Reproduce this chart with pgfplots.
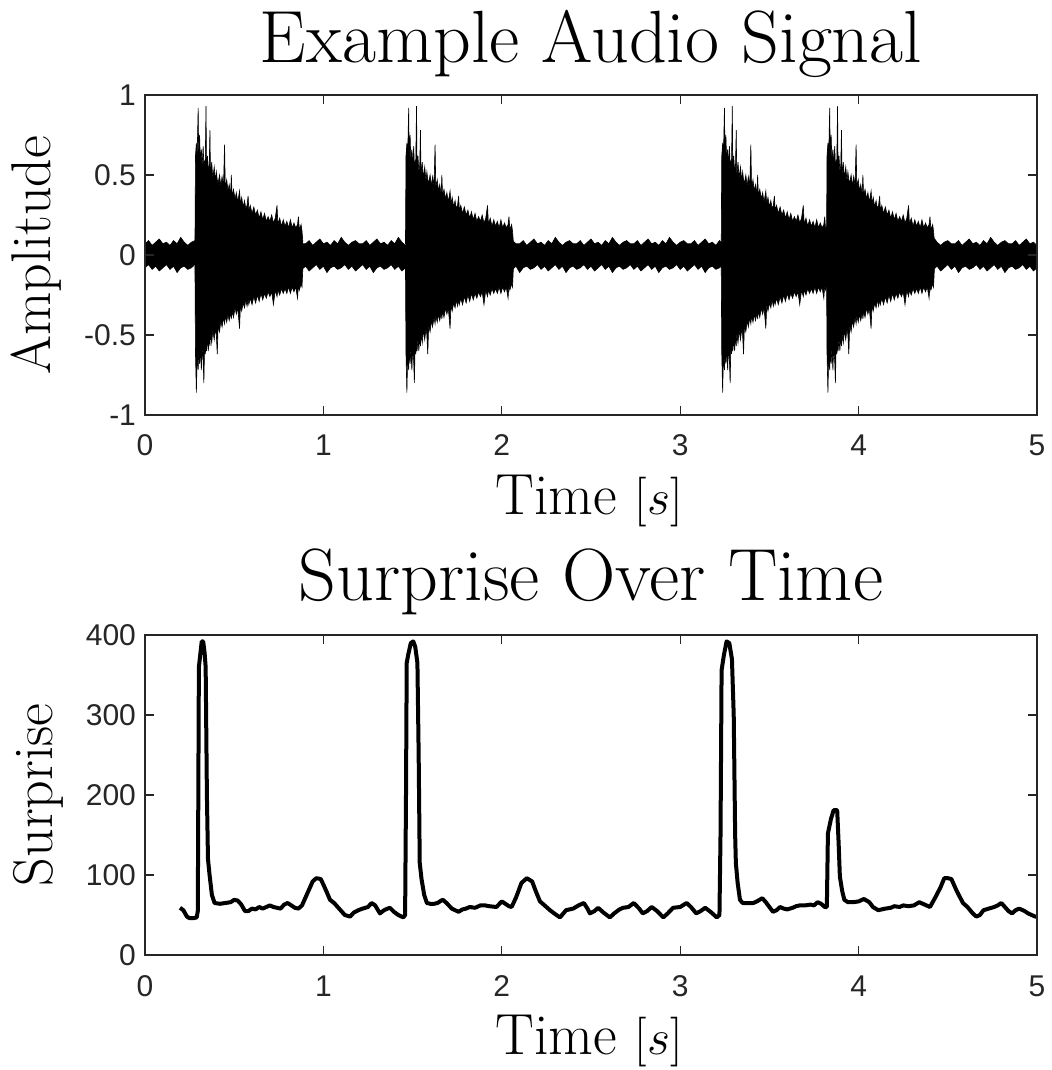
\documentclass[border=0pt]{standalone}
\usepackage{fontspec}
\usepackage{pgfplots}
\pgfplotsset{compat=1.18}
\usepackage{pgfplotstable}
\usepgfplotslibrary{fillbetween}
\newfontfamily\arialfont{Liberation Sans}
\definecolor{axgray}{HTML}{262626}

% background noise band: time, upper edge, lower edge
\pgfplotstableread{
t u l
0.00 0.07 -0.08
0.02 0.09 -0.06
0.04 0.06 -0.09
0.06 0.08 -0.07
0.08 0.10 -0.10
0.10 0.07 -0.08
0.12 0.08 -0.06
0.14 0.06 -0.09
0.16 0.09 -0.07
0.18 0.07 -0.11
0.20 0.11 -0.08
0.22 0.08 -0.07
0.24 0.06 -0.09
0.26 0.08 -0.08
0.28 0.09 -0.06
0.88 0.07 -0.09
0.90 0.07 -0.07
0.92 0.09 -0.10
0.94 0.06 -0.08
0.96 0.08 -0.06
0.98 0.10 -0.09
1.00 0.07 -0.07
1.02 0.08 -0.11
1.04 0.06 -0.08
1.06 0.09 -0.07
1.08 0.07 -0.09
1.10 0.11 -0.08
1.12 0.08 -0.06
1.14 0.06 -0.09
1.16 0.08 -0.07
1.18 0.09 -0.10
1.20 0.07 -0.08
1.22 0.07 -0.06
1.24 0.09 -0.09
1.26 0.06 -0.07
1.28 0.08 -0.11
1.30 0.10 -0.08
1.32 0.07 -0.07
1.34 0.08 -0.09
1.36 0.06 -0.08
1.38 0.09 -0.06
1.40 0.07 -0.09
1.42 0.11 -0.07
1.44 0.08 -0.10
1.46 0.06 -0.08
2.04 0.08 -0.06
2.06 0.09 -0.09
2.08 0.07 -0.07
2.10 0.07 -0.11
2.12 0.09 -0.08
2.14 0.06 -0.07
2.16 0.08 -0.09
2.18 0.10 -0.08
2.20 0.07 -0.06
2.22 0.08 -0.09
2.24 0.06 -0.07
2.26 0.09 -0.10
2.28 0.07 -0.08
2.30 0.11 -0.06
2.32 0.08 -0.09
2.34 0.06 -0.07
2.36 0.08 -0.11
2.38 0.09 -0.08
2.40 0.07 -0.07
2.42 0.07 -0.09
2.44 0.09 -0.08
2.46 0.06 -0.06
2.48 0.08 -0.09
2.50 0.10 -0.07
2.52 0.07 -0.10
2.54 0.08 -0.08
2.56 0.06 -0.06
2.58 0.09 -0.09
2.60 0.07 -0.07
2.62 0.11 -0.11
2.64 0.08 -0.08
2.66 0.06 -0.07
2.68 0.08 -0.09
2.70 0.09 -0.08
2.72 0.07 -0.06
2.74 0.07 -0.09
2.76 0.09 -0.07
2.78 0.06 -0.10
2.80 0.08 -0.08
2.82 0.10 -0.06
2.84 0.07 -0.09
2.86 0.08 -0.07
2.88 0.06 -0.11
2.90 0.09 -0.08
2.92 0.07 -0.07
2.94 0.11 -0.09
2.96 0.08 -0.08
2.98 0.06 -0.06
3.00 0.08 -0.09
3.02 0.09 -0.07
3.04 0.07 -0.10
3.06 0.07 -0.08
3.08 0.09 -0.06
3.10 0.06 -0.09
3.12 0.08 -0.07
3.14 0.10 -0.11
3.16 0.07 -0.08
3.18 0.08 -0.07
3.20 0.06 -0.09
3.22 0.09 -0.08
3.24 0.07 -0.06
4.42 0.11 -0.09
4.44 0.08 -0.07
4.46 0.06 -0.10
4.48 0.08 -0.08
4.50 0.09 -0.06
4.52 0.07 -0.09
4.54 0.07 -0.07
4.56 0.09 -0.11
4.58 0.06 -0.08
4.60 0.08 -0.07
4.62 0.10 -0.09
4.64 0.07 -0.08
4.66 0.08 -0.06
4.68 0.06 -0.09
4.70 0.09 -0.07
4.72 0.07 -0.10
4.74 0.11 -0.08
4.76 0.08 -0.06
4.78 0.06 -0.09
4.80 0.08 -0.07
4.82 0.09 -0.11
4.84 0.07 -0.08
4.86 0.07 -0.07
4.88 0.09 -0.09
4.90 0.06 -0.08
4.92 0.08 -0.06
4.94 0.10 -0.09
4.96 0.07 -0.07
4.98 0.08 -0.10
5.00 0.06 -0.08
}\noise

% the four bursts (same drum envelope): times of bursts 1-4, upper edge, lower edge
\pgfplotstableread{
t1 t2 t3 t4 u l
0.280 1.460 3.230 3.820 0.07 -0.07
0.283 1.463 3.233 3.823 0.62 -0.62
0.288 1.468 3.238 3.828 0.70 -0.86
0.292 1.472 3.242 3.832 0.60 -0.64
0.298 1.478 3.248 3.838 0.92 -0.72
0.301 1.481 3.251 3.841 0.62 -0.60
0.306 1.486 3.256 3.846 0.75 -0.68
0.310 1.490 3.260 3.850 0.60 -0.58
0.316 1.496 3.266 3.856 0.66 -0.72
0.320 1.500 3.270 3.860 0.55 -0.58
0.326 1.506 3.276 3.866 0.68 -0.66
0.330 1.510 3.280 3.870 0.56 -0.80
0.334 1.514 3.284 3.874 0.58 -0.56
0.338 1.518 3.288 3.878 0.60 -0.62
0.342 1.522 3.292 3.882 0.93 -0.55
0.345 1.525 3.295 3.885 0.54 -0.60
0.350 1.530 3.300 3.890 0.62 -0.52
0.355 1.535 3.305 3.895 0.52 -0.60
0.360 1.540 3.310 3.900 0.56 -0.50
0.364 1.544 3.314 3.904 0.78 -0.57
0.367 1.547 3.317 3.907 0.50 -0.49
0.374 1.554 3.324 3.914 0.58 -0.55
0.380 1.560 3.330 3.920 0.48 -0.47
0.388 1.568 3.338 3.928 0.55 -0.53
0.395 1.575 3.345 3.935 0.46 -0.46
0.400 1.580 3.350 3.940 0.52 -0.50
0.405 1.585 3.355 3.945 0.47 -0.62
0.410 1.590 3.360 3.950 0.45 -0.44
0.418 1.598 3.368 3.958 0.50 -0.48
0.425 1.605 3.375 3.965 0.43 -0.41
0.432 1.612 3.382 3.972 0.49 -0.45
0.440 1.620 3.390 3.980 0.43 -0.39
0.446 1.626 3.396 3.986 0.69 -0.43
0.450 1.630 3.400 3.990 0.42 -0.38
0.458 1.638 3.408 3.998 0.47 -0.42
0.465 1.645 3.415 4.005 0.40 -0.37
0.472 1.652 3.422 4.012 0.44 -0.41
0.480 1.660 3.430 4.020 0.38 -0.36
0.484 1.664 3.434 4.024 0.50 -0.40
0.488 1.668 3.438 4.028 0.37 -0.35
0.496 1.676 3.446 4.036 0.41 -0.39
0.505 1.685 3.455 4.045 0.35 -0.33
0.512 1.692 3.462 4.052 0.39 -0.37
0.520 1.700 3.470 4.060 0.33 -0.33
0.530 1.710 3.480 4.070 0.40 -0.46
0.535 1.715 3.485 4.075 0.32 -0.31
0.542 1.722 3.492 4.082 0.36 -0.35
0.550 1.730 3.500 4.090 0.30 -0.30
0.558 1.738 3.508 4.098 0.34 -0.33
0.565 1.745 3.515 4.105 0.29 -0.28
0.572 1.752 3.522 4.112 0.31 -0.32
0.578 1.758 3.528 4.118 0.37 -0.28
0.582 1.762 3.532 4.122 0.28 -0.31
0.590 1.770 3.540 4.130 0.31 -0.27
0.600 1.780 3.550 4.140 0.26 -0.31
0.610 1.790 3.560 4.150 0.30 -0.26
0.620 1.800 3.570 4.160 0.25 -0.30
0.630 1.810 3.580 4.170 0.28 -0.25
0.640 1.820 3.590 4.180 0.23 -0.29
0.650 1.830 3.600 4.190 0.27 -0.24
0.660 1.840 3.610 4.200 0.22 -0.28
0.670 1.850 3.620 4.210 0.26 -0.24
0.680 1.860 3.630 4.220 0.21 -0.27
0.690 1.870 3.640 4.230 0.24 -0.23
0.700 1.880 3.650 4.240 0.21 -0.26
0.710 1.890 3.660 4.250 0.25 -0.23
0.720 1.900 3.670 4.260 0.20 -0.31
0.730 1.910 3.680 4.270 0.23 -0.22
0.740 1.920 3.690 4.280 0.31 -0.26
0.745 1.925 3.695 4.285 0.19 -0.22
0.755 1.935 3.705 4.295 0.23 -0.25
0.765 1.945 3.715 4.305 0.18 -0.21
0.775 1.955 3.725 4.315 0.22 -0.24
0.785 1.965 3.735 4.325 0.18 -0.21
0.795 1.975 3.745 4.335 0.21 -0.24
0.805 1.985 3.755 4.345 0.17 -0.20
0.815 1.995 3.765 4.355 0.22 -0.24
0.825 2.005 3.775 4.365 0.17 -0.20
0.835 2.015 3.785 4.375 0.20 -0.23
0.845 2.025 3.795 4.385 0.17 -0.20
0.855 2.035 3.805 4.395 0.19 -0.27
0.860 2.040 3.810 4.400 0.24 -0.19
0.865 2.045 3.815 4.405 0.16 -0.22
0.875 2.055 3.825 4.415 0.19 -0.18
0.880 2.060 3.830 4.420 0.15 -0.20
0.885 2.065 3.835 4.425 0.08 -0.08
}\bursts

\pgfplotstableread{
t s
0.196 59
0.215 56
0.235 48
0.250 46
0.270 46
0.290 47
0.296 55
0.302 360
0.308 372
0.318 392
0.326 392
0.334 378
0.340 360
0.347 200
0.353 120
0.362 100
0.375 75
0.390 65
0.420 64
0.450 65
0.480 66
0.500 69
0.520 68
0.540 63
0.560 55
0.580 55
0.600 58
0.620 57
0.640 60
0.660 58
0.680 60
0.700 62
0.720 60
0.740 59
0.760 58
0.780 63
0.800 65
0.820 62
0.840 59
0.860 58
0.880 62
0.900 72
0.920 82
0.940 92
0.960 96
0.985 95
1.000 88
1.020 78
1.037 69
1.060 65
1.080 60
1.100 55
1.120 50
1.150 48
1.170 53
1.196 56
1.220 58
1.250 60
1.270 65
1.290 62
1.317 52
1.340 56
1.360 58
1.373 59
1.395 54
1.420 50
1.448 47
1.458 50
1.463 200
1.467 365
1.475 375
1.490 390
1.504 392
1.515 385
1.527 365
1.534 250
1.540 115
1.550 95
1.565 75
1.580 65
1.600 64
1.620 64
1.640 65
1.660 68
1.670 69
1.690 65
1.720 58
1.757 54
1.780 57
1.800 58
1.820 60
1.850 59
1.880 62
1.906 62
1.930 61
1.970 60
2.000 67
2.020 64
2.040 61
2.055 60
2.080 72
2.110 90
2.140 96
2.170 92
2.190 80
2.214 67
2.240 62
2.270 56
2.300 51
2.326 47
2.345 52
2.360 56
2.400 58
2.430 62
2.460 65
2.480 58
2.494 52
2.520 55
2.540 59
2.570 53
2.606 47
2.630 52
2.660 57
2.680 59
2.710 60
2.740 65
2.770 58
2.790 52
2.815 55
2.840 60
2.870 55
2.905 47
2.930 52
2.960 59
3.000 60
3.036 65
3.060 60
3.090 52
3.115 55
3.140 59
3.170 54
3.205 47
3.220 50
3.226 150
3.232 356
3.245 375
3.260 392
3.275 390
3.290 370
3.300 300
3.308 150
3.312 115
3.322 90
3.335 69
3.350 65
3.380 65
3.410 65
3.430 67
3.460 71
3.480 66
3.500 60
3.520 54
3.540 56
3.560 60
3.580 58
3.600 57
3.630 59
3.650 61
3.670 62
3.700 62
3.730 63
3.750 62
3.770 66
3.790 64
3.810 60
3.822 60
3.828 152
3.845 170
3.860 181
3.880 181
3.888 140
3.895 98
3.908 80
3.920 69
3.940 66
3.970 66
4.000 67
4.030 70
4.060 66
4.080 60
4.110 56
4.130 57
4.150 58
4.180 59
4.200 61
4.230 60
4.250 62
4.280 61
4.310 62
4.340 66
4.370 63
4.400 60
4.430 72
4.460 85
4.480 96
4.500 96
4.520 95
4.550 80
4.585 65
4.610 60
4.640 52
4.660 48
4.680 50
4.700 56
4.730 58
4.760 60
4.780 62
4.800 65
4.820 60
4.840 55
4.860 52
4.880 56
4.900 58
4.930 55
4.950 52
4.970 50
4.990 48
5.000 48
}\surprise

\pgfplotsset{
  mybase/.style={
    width=446pt, height=160pt, scale only axis,
    xmin=0, xmax=5,
    axis line style={axgray, line width=0.6pt},
    every tick/.style={axgray, line width=0.6pt},
    major tick length=4.5pt,
    tick align=inside,
    axis on top,
    xtick={0,1,2,3,4,5}, xticklabels={0,1,2,3,4,5},
    ticklabel style={font=\arialfont\fontsize{15}{18}\selectfont, text=axgray},
    xticklabel style={anchor=base, yshift=-20.5pt},
    yticklabel style={anchor=east, xshift=-1pt},
  },
  sig/.style={draw=black, line width=0.3pt},
}

\begin{document}
\begin{tikzpicture}

% ---------- top axis ----------
\begin{axis}[mybase, at={(0pt,270pt)}, anchor=south west,
  ymin=-1, ymax=1,
  ytick={-1,-0.5,0,0.5,1}, yticklabels={-1,-0.5,0,0.5,1}]
\addplot[sig, name path=nu] table[x=t, y=u] {\noise};
\addplot[sig, name path=nl] table[x=t, y=l] {\noise};
\addplot[black] fill between[of=nu and nl];

\addplot[sig, name path=b1u] table[x=t1, y=u] {\bursts};
\addplot[sig, name path=b1l] table[x=t1, y=l] {\bursts};
\addplot[black] fill between[of=b1u and b1l];

\addplot[sig, name path=b2u] table[x=t2, y=u] {\bursts};
\addplot[sig, name path=b2l] table[x=t2, y=l] {\bursts};
\addplot[black] fill between[of=b2u and b2l];

\addplot[sig, name path=b3u] table[x=t3, y=u] {\bursts};
\addplot[sig, name path=b3l] table[x=t3, y=l] {\bursts};
\addplot[black] fill between[of=b3u and b3l];

\addplot[sig, name path=b4u] table[x=t4, y=u] {\bursts};
\addplot[sig, name path=b4l] table[x=t4, y=l] {\bursts};
\addplot[black] fill between[of=b4u and b4l];
\end{axis}

% ---------- bottom axis ----------
\begin{axis}[mybase, at={(0pt,0pt)}, anchor=south west,
  ymin=0, ymax=400,
  ytick={0,100,200,300,400}, yticklabels={0,100,200,300,400}]
\addplot[black, line width=2pt, line join=round] table[x=t, y=s] {\surprise};
\end{axis}

% ---------- texts ----------
\node[anchor=base, inner sep=0pt] at (223pt,446pt) {\fontsize{37}{44}\selectfont Example Audio Signal};
\node[anchor=base, inner sep=0pt] at (222pt,220pt) {\fontsize{29}{34}\selectfont Time $[s]$};
\node[rotate=90, anchor=base, inner sep=0pt] at (-47pt,350pt) {\fontsize{28}{32}\selectfont Amplitude};
\node[anchor=base, inner sep=0pt] at (223pt,177pt) {\fontsize{37}{44}\selectfont Surprise Over Time};
\node[anchor=base, inner sep=0pt] at (222pt,-49.5pt) {\fontsize{29}{34}\selectfont Time $[s]$};
\node[rotate=90, anchor=base, inner sep=0pt] at (-46pt,80pt) {\fontsize{28}{32}\selectfont Surprise};

\pgfresetboundingbox
\useasboundingbox (-72.5pt,-57.5pt) rectangle (453.5pt,477.5pt);
\end{tikzpicture}
\end{document}
